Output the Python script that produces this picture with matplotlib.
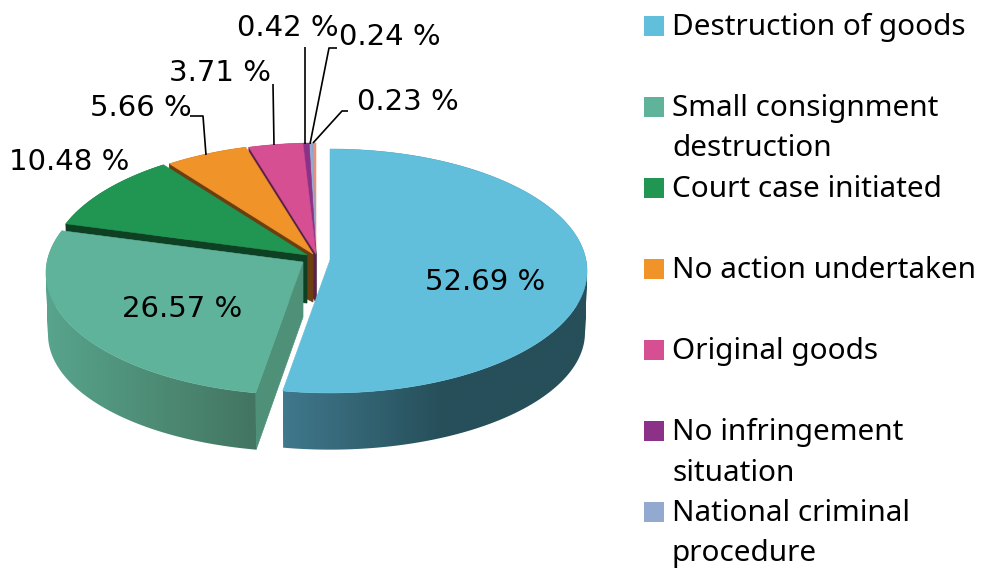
import numpy as np
import matplotlib
matplotlib.use("Agg")
import matplotlib.pyplot as plt
from matplotlib.colors import to_rgb
from matplotlib.patches import PathPatch, Polygon, Rectangle
from matplotlib.path import Path

# chart values
shares = [52.69, 26.57, 10.48, 5.66, 3.71, 0.42, 0.24, 0.23]
share_labels = ["52.69 %", "26.57 %", "10.48 %", "5.66 %", "3.71 %", "0.42 %", "0.24 %", "0.23 %"]
legend_labels = [
    "Destruction of goods",
    "Small consignment\ndestruction",
    "Court case initiated",
    "No action undertaken",
    "Original goods",
    "No infringement\nsituation",
    "National criminal\nprocedure",
]

# styles
top_colors = ["#62bfdb", "#5eb39a", "#219653", "#f0942a", "#d64f93", "#8b3288", "#94a9d0", "#e8907c"]
cut_colors = ["#25505b", "#4f9079", "#0e4023", "#6b3f10", "#5e2146", "#3c163b", "#46506a", "#6e4338"]
rim_left = ["#40788c", "#58a48c", "#0e4023", "#6b3f10", "#5e2146", "#3c163b", "#46506a", "#6e4338"]
rim_right = ["#264f5a", "#437561", "#0e4023", "#6b3f10", "#5e2146", "#3c163b", "#46506a", "#6e4338"]

# where each slice's tip sits (the slices are pulled apart by hand in the original)
tips = [(330, 260), (303, 262), (307, 255), (313, 254), (316, 254), (316, 254), (316, 254), (316, 254)]
cut_depth = [48, 55, 48, 48, 48, 48, 48, 48]

RX, RY, PERSP = 256, 121, 0.09
# the bottom ring is further away, so a bit smaller and flatter
BOTTOM_SX, BOTTOM_SY, BOTTOM_DY = 0.992, 0.96, 62


def project(angle_deg, tip, sx=1.0, sy=1.0, dy=0.0):
    # circle seen in perspective, the far side comes out flatter than the near side
    u = np.cos(np.radians(angle_deg))
    v = np.sin(np.radians(angle_deg))
    d = 1 + PERSP * v
    return tip[0] + sx * RX * u / d, tip[1] + dy - sy * RY * v / d


def quad_area(quad):
    # shoelace, the sign gives the winding direction
    x, y = np.array(quad).T
    return 0.5 * np.sum(x * np.roll(y, -1) - np.roll(x, -1) * y)


def draw_wall(ax, angles, i, z):
    tip = tips[i]
    xs, ys = project(angles, tip)
    xb, yb = project(angles, tip, BOTTOM_SX, BOTTOM_SY, BOTTOM_DY)

    # the outline is a set of small quads so the straight silhouette at the sides is kept
    # all wound the same way, otherwise overlapping quads cancel out in the fill
    verts, codes = [], []
    for k in range(len(angles) - 1):
        quad = [(xs[k], ys[k]), (xs[k + 1], ys[k + 1]), (xb[k + 1], yb[k + 1]), (xb[k], yb[k])]
        if quad_area(quad) < 0:
            quad = quad[::-1]
        verts += quad + [quad[0]]
        codes += [Path.MOVETO, Path.LINETO, Path.LINETO, Path.LINETO, Path.CLOSEPOLY]
    outline = PathPatch(Path(verts, codes), transform=ax.transData)

    # left to right shading, clipped to the wall outline
    x0, x1 = min(xs.min(), xb.min()), max(xs.max(), xb.max())
    y0, y1 = min(ys.min(), yb.min()), max(ys.max(), yb.max())
    reach = 0.52 if i == 0 else 1.0
    t = np.clip(np.linspace(0, 1, 256) / reach, 0, 1)[None, :, None]
    left, right = np.array(to_rgb(rim_left[i])), np.array(to_rgb(rim_right[i]))
    im = ax.imshow(left + (right - left) * t, extent=(x0, x1, y1, y0), aspect="auto",
                   interpolation="bilinear", zorder=z)
    im.set_clip_path(outline)


def draw_slice(ax, start, end, i, z):
    tip = tips[i]
    angles = np.linspace(start, end, max(int(abs(start - end) * 1.5), 4))
    xs, ys = project(angles, tip)
    xb, yb = project(angles, tip, BOTTOM_SX, BOTTOM_SY, BOTTOM_DY)

    # flat cut face on the clockwise-start side
    ax.add_patch(Polygon(
        [tip, (xs[0], ys[0]), (xb[0], yb[0]), (tip[0], tip[1] + cut_depth[i])],
        facecolor=cut_colors[i], edgecolor=cut_colors[i], lw=0.5, zorder=z,
    ))

    draw_wall(ax, angles, i, z + 0.01)

    # top face
    ax.add_patch(Polygon(
        [tip] + list(zip(xs, ys)),
        facecolor=top_colors[i], edgecolor=top_colors[i], lw=0.4, zorder=z + 0.02,
    ))


def draw_pie(ax):
    edges = 90 - np.cumsum([0] + shares) * 3.6
    # back slices first, the big front ones go over them
    for n, i in enumerate(reversed(range(len(shares)))):
        draw_slice(ax, edges[i], edges[i + 1], i, 1 + 0.1 * n)


def draw_labels(ax):
    label_pos = [(485, 282), (182, 309), (69, 162), (141, 108), (220, 73), (288, 28), (390, 37), (408, 102)]
    for text, (x, y) in zip(share_labels, label_pos):
        ax.text(x, y, text, ha="center", va="center", fontsize=21, color="black",
                family="DejaVu Sans", zorder=5)

    leaders = [
        [(190, 116), (203, 116), (206, 155)],
        [(273, 84), (274, 145)],
        [(304.5, 47), (304.5, 144)],
        [(337, 48), (329, 48), (310, 144)],
        [(348, 111), (342, 111), (313, 143)],
    ]
    for line in leaders:
        ax.plot([p[0] for p in line], [p[1] for p in line], color="black", lw=1.2,
                solid_capstyle="butt", zorder=4)


def draw_legend(ax):
    rows_y = 26 + 81 * np.arange(len(legend_labels))
    for i, (text, y) in enumerate(zip(legend_labels, rows_y)):
        ax.add_patch(Rectangle((644, y - 10), 20, 20, facecolor=top_colors[i], edgecolor="none"))
        ax.text(672, y - 13, text, ha="left", va="top", fontsize=21.4, color="black",
                family="Noto Sans", linespacing=1.52)


fig = plt.figure(figsize=(9.81, 5.72), dpi=100)
ax = fig.add_axes([0, 0, 1, 1])

draw_pie(ax)
draw_labels(ax)
draw_legend(ax)

ax.set_xlim(0, 981)
ax.set_ylim(572, 0)
ax.axis("off")

fig.savefig("out.png", dpi=100)
plt.close(fig)
